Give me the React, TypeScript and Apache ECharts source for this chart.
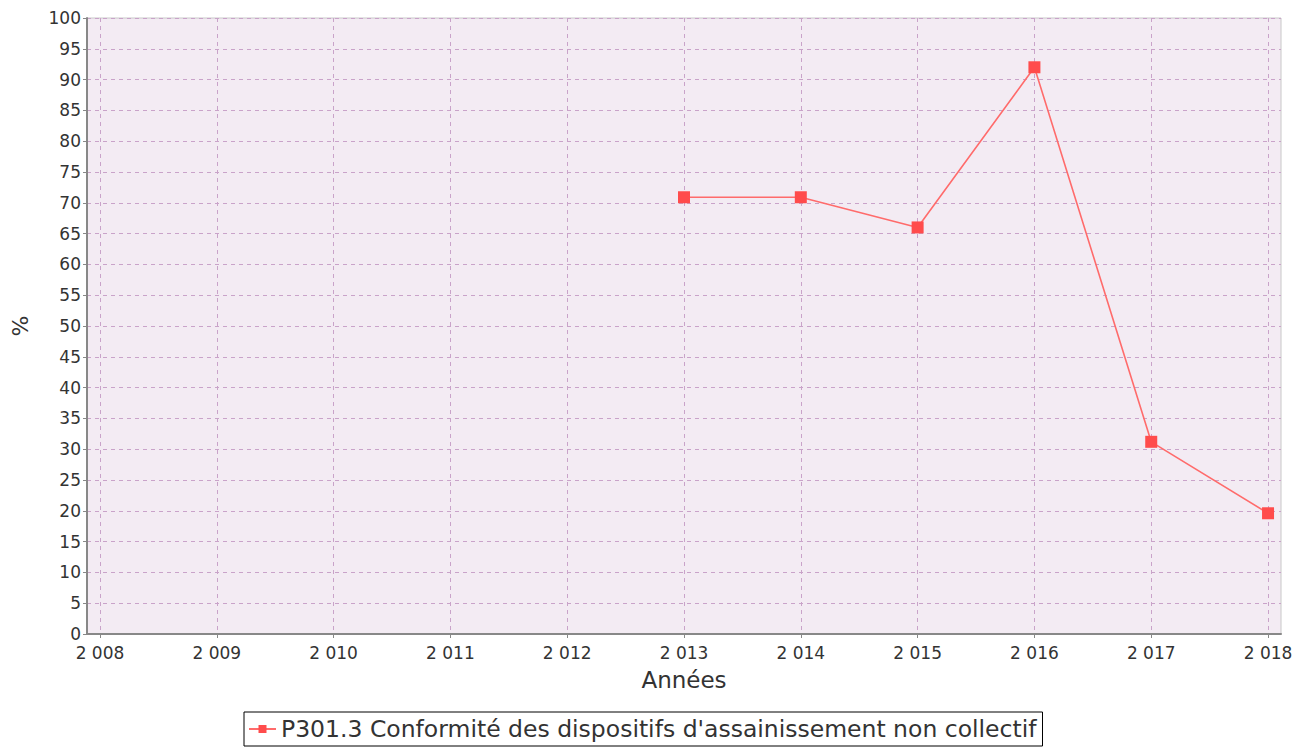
import React, { useEffect, useRef } from "react";
import * as echarts from "echarts";

const years = [2013, 2014, 2015, 2016, 2017, 2018];
const values = [70.9, 70.9, 66, 92, 31.2, 19.6];
const xTicks = [2008, 2009, 2010, 2011, 2012, 2013, 2014, 2015, 2016, 2017, 2018];
const seriesName = "P301.3 Conformité des dispositifs d'assainissement non collectif";
const xName = "Années";
const yName = "%";

const FONT = "DejaVu Sans";

export default function App() {
  const ref = useRef<HTMLDivElement>(null);
  useEffect(() => {
    document.body.style.margin = "0";
    const chart = echarts.init(ref.current!, null, { renderer: "svg" });
    const fmt = (v: number) => {
      const s = String(Math.round(v));
      return s.replace(/\B(?=(\d{3})+(?!\d))/g, " ");
    };
    chart.setOption({
      animation: false,
      backgroundColor: "#ffffff",
      textStyle: { fontFamily: FONT },
      grid: {
        left: 87,
        right: 20,
        top: 18,
        bottom: 116,
        show: true,
        backgroundColor: "#f3ebf3",
        borderColor: "#c8c8c8",
        borderWidth: 1,
      },
      xAxis: {
        type: "value",
        min: 2007.889,
        max: 2018.111,
        name: xName,
        nameLocation: "middle",
        nameGap: 34,
        nameTextStyle: { fontFamily: FONT, fontSize: 23, color: "#333" },
        axisLine: { show: true, lineStyle: { color: "#888888", width: 2 } },
        axisTick: { show: true, length: 4, lineStyle: { color: "#888888" }, customValues: xTicks },
        axisLabel: {
          fontFamily: FONT,
          fontSize: 17,
          color: "#333",
          margin: 10,
          customValues: xTicks,
          formatter: (v: number) => fmt(v),
        },
        splitLine: {
          show: true,
          lineStyle: { color: "#c9a3c9", type: [4, 4], width: 1 },
        },
      },
      yAxis: {
        type: "value",
        min: 0,
        max: 100,
        interval: 5,
        name: yName,
        nameLocation: "middle",
        nameGap: 56,
        nameRotate: 90,
        nameTextStyle: { fontFamily: FONT, fontSize: 22, color: "#333" },
        axisLine: { show: true, lineStyle: { color: "#888888", width: 2 } },
        axisTick: { show: true, length: 4, lineStyle: { color: "#888888" } },
        axisLabel: { fontFamily: FONT, fontSize: 17, color: "#333", margin: 6, lineHeight: 16 },
        splitLine: {
          show: true,
          lineStyle: { color: "#c9a3c9", type: [4, 4], width: 1 },
        },
      },
      legend: {
        left: 244,
        top: 712,
        data: [seriesName],
        borderColor: "#000",
        borderWidth: 1,
        borderRadius: 0,
        padding: [3, 6, 3, 4],
        itemWidth: 27,
        itemHeight: 10,
        itemGap: 4,
        textStyle: { fontFamily: FONT, fontSize: 23.5, color: "#333", lineHeight: 28 },
      },
      series: [
        {
          name: seriesName,
          type: "line",
          data: years.map((y, i) => [y, values[i]]),
          symbol: "rect",
          symbolSize: 12,
          itemStyle: { color: "#ff4c4c" },
          lineStyle: { color: "#ff6b6b", width: 1.6 },
        },
      ],
    });
    return () => chart.dispose();
  }, []);
  return <div ref={ref} style={{ width: 1301, height: 750 }} />;
}
